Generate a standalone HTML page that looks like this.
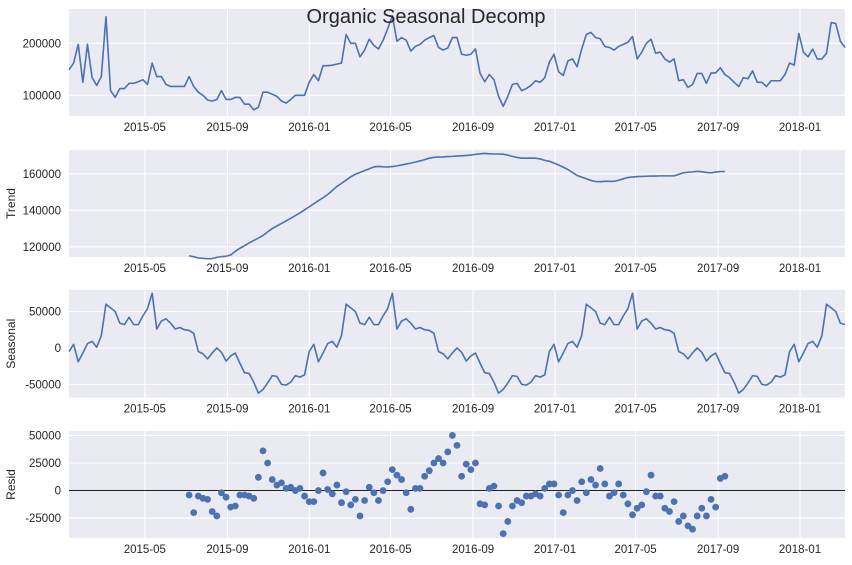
<!DOCTYPE html>
<html><head><meta charset="utf-8">
<style>
html,body{margin:0;padding:0;background:#fff;}
svg{display:block;font-family:"Liberation Sans","DejaVu Sans",sans-serif;}
</style></head>
<body>
<svg id="chart" width="852" height="565" viewBox="0 0 852 565" xmlns="http://www.w3.org/2000/svg">
</svg>
<script>
// ---- data (values in thousands) ----
const observed = [149,162,198,125,198,134,119,136,251,109,96,113,113,123,123,126,130,121,162,136,136,121,117,117,117,117,136,117,106,100,91,89,92,109,92,92,96,96,83,83,72,77,106,106,102,98,89,85,92,100,100,100,125,140,128,157,157,
158,160,162,217,200,200,174,187,208,196,189,206,228,253,204,211,206,185,194,198,206,211,215,192,187,191,211,211,179,177,179,189,142,126,140,130,98,79,98,121,123,109,113,119,128,125,134,164,179,145,138,166,170,155,189,217,
221,211,209,194,192,187,194,198,202,213,170,183,200,208,181,183,170,164,170,128,130,115,121,142,142,123,143,143,153,140,134,125,117,134,132,147,125,125,117,128,128,128,140,162,158,219,183,174,189,170,170,181,240,238,204,192];
const trendStart = 26;
const trend = [115.1,114.5,113.9,113.7,113.5,113.5,114.2,114.6,114.8,115.5,117.5,119.2,120.6,122.1,123.5,124.8,126.2,128.2,130,131.4,132.8,134.2,135.6,137.1,138.6,140.3,141.9,143.6,145.3,146.9,148.7,150.9,153.1,154.8,156.6,158.4,159.8,160.8,161.8,162.8,163.8,164.1,163.9,163.8,164.0,164.4,164.9,165.4,165.9,166.5,167.1,167.8,168.6,169.1,169.2,169.3,169.5,169.6,169.8,169.9,170.1,170.3,170.7,171.0,171.2,171.0,170.9,170.9,170.8,170.3,169.6,169.0,168.6,168.6,168.7,168.6,168.2,167.4,166.9,165.9,164.9,163.7,162.4,160.8,159.1,158.2,157.3,156.4,155.8,155.7,155.9,155.9,155.9,156.5,157.3,158.0,158.3,158.5,158.6,158.7,158.8,158.8,158.9,158.9,158.9,158.9,159.7,160.6,160.9,161.1,161.4,161.2,160.8,160.6,161.0,161.3,161.3];
const seasonalPattern = [-5,5,-19,-7,6,9,1,17,60,55,50,34,32,42,32,32,44,54,75,26,37,40,34,26,28,25,24,20,-5,-8,-15,-7,0,-6,-18,-11,-7,-21,-34,-35,-47,-62,-57,-48,-38,-39,-50,-51,-47,-38,-40,-37];
const resid = [-4,-20,-5,-7,-8,-19,-23,-2,-6,-15,-14,-4,-4,-5,-7,12,36,25,10,5,7,2,3,0,2,-5,-10,-10,0,16,1,-3,5,-11,-1,-13,-8,-23,-9,3,-2,-9,0,8,19,14,10,-2,-17,2,2,13,18,25,29,25,35,
50,41,13,24,19,25,-12,-13,2,4,-14,-39,-28,-14,-9,-11,-5,-5,-3,-5,2,6,6,-4,-20,-4,0,-9,8,-2,10,5,20,6,-5,-2,6,-4,-12,-22,-16,-13,-1,14,-5,-5,-16,-19,-10,-28,-23,-32,-35,-23,-16,-23,-8,-15,11,13];
const startDate = '2015-01-08';
const endDate = '2018-03-09';
const xTickLabels = ['2015-05','2015-09','2016-01','2016-05','2016-09','2017-01','2017-05','2017-09','2018-01'];
const obsTicks = [100000,200000];
const trendTicks = [120000,140000,160000];
const seasTicks = [-50000,0,50000];
const residTicks = [-25000,0,25000,50000];

// ---- layout ----
const NS = 'http://www.w3.org/2000/svg';
const svg = document.getElementById('chart');
const L = 69, R = 845;
const t0 = Date.parse(startDate), t1 = Date.parse(endDate);
function xDate(ms){ return L + (ms - t0) / (t1 - t0) * (R - L); }
function xIdx(i){ return xDate(t0 + i / (observed.length - 1) * (t1 - t0)); }
function mk(tag, attrs, parent){
  const e = document.createElementNS(NS, tag);
  for (const k in attrs) e.setAttribute(k, attrs[k]);
  (parent || svg).appendChild(e);
  return e;
}
const panels = [
  {name:'observed', top:9, bot:116, vmin:60.2, vmax:266, ticks:obsTicks, title:''},
  {name:'trend', top:150, bot:257, vmin:114.4, vmax:173.1, ticks:trendTicks, title:'Trend'},
  {name:'seasonal', top:290, bot:397.5, vmin:-68, vmax:79.5, ticks:seasTicks, title:'Seasonal'},
  {name:'resid', top:431, bot:538, vmin:-43, vmax:54, ticks:residTicks, title:'Resid'}
];
panels.forEach(p => {
  p.y = v => p.bot - (v - p.vmin) / (p.vmax - p.vmin) * (p.bot - p.top);
  const g = mk('g', {});
  
  
  const bg = mk('rect', {x:L, y:p.top, width:R-L, height:p.bot-p.top, fill:'#eaeaf2'}, g);
  
  
  xTickLabels.forEach(lbl => {
    const x = xDate(Date.parse(lbl + '-01'));
    const gl = mk('line', {x1:x, x2:x, y1:p.top, y2:p.bot, stroke:'#fff', 'stroke-width':1.1}, g);
    
    
    const t = mk('text', {x:x, y:p.bot + 15, 'text-anchor':'middle', 'font-size':11.5, fill:'#262626'}, g);
    t.textContent = lbl;
    
    
  });
  p.ticks.forEach(v => {
    const y = p.y(v / 1000);
    const gl = mk('line', {x1:L, x2:R, y1:y, y2:y, stroke:'#fff', 'stroke-width':1.1}, g);
    
    
    const t = mk('text', {x:61, y:y + 4, 'text-anchor':'end', 'font-size':11.5, fill:'#262626'}, g);
    t.textContent = String(v);
    
    
  });
  if (p.title){
    const cy = (p.top + p.bot) / 2;
    const t = mk('text', {x:15, y:cy, 'text-anchor':'middle', 'font-size':12, fill:'#262626', transform:'rotate(-90 15 ' + cy + ')'}, g);
    t.textContent = p.title;
    
    
  }
  p.g = g;
});
function line(p, pts, name){
  const d = pts.map((q, k) => (k ? 'L' : 'M') + q[0].toFixed(2) + ',' + q[1].toFixed(2)).join('');
  const e = mk('path', {d:d, fill:'none', stroke:'#4c72b0', 'stroke-width':1.6, 'stroke-linejoin':'round'}, p.g);
  
  
}
line(panels[0], observed.map((v, i) => [xIdx(i), panels[0].y(v)]), 'observed-line');
line(panels[1], trend.map((v, k) => [xIdx(k + trendStart), panels[1].y(v)]), 'trend-line');
line(panels[2], observed.map((_, i) => [xIdx(i), panels[2].y(seasonalPattern[i % seasonalPattern.length])]), 'seasonal-line');
const rp = panels[3];
const zl = mk('line', {x1:L, x2:R, y1:rp.y(0), y2:rp.y(0), stroke:'#000', 'stroke-width':0.9}, rp.g);


resid.forEach((v, k) => {
  const c = mk('circle', {cx:xIdx(k + trendStart), cy:rp.y(v), r:3.4, fill:'#4c72b0'}, rp.g);
  
  
});
const title = mk('text', {x:426, y:23, 'text-anchor':'middle', 'font-size':20, fill:'#262626'});
title.textContent = 'Organic Seasonal Decomp';


</script>
</body></html>
